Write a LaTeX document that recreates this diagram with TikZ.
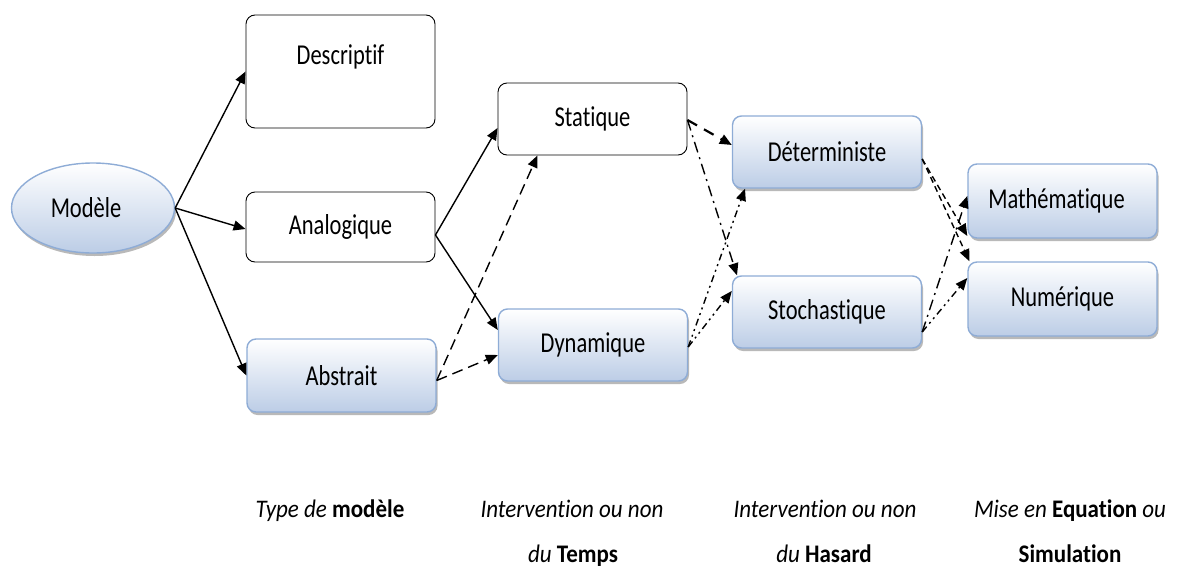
\documentclass[tikz,border=0pt]{standalone}
\usepackage{fontspec}
\setmainfont{Carlito}[Ligatures={NoCommon}]
\usetikzlibrary{shapes.geometric,arrows.meta,shadows}
\definecolor{boxedge}{HTML}{8EACD6}
\definecolor{boxbot}{HTML}{BCCDE6}
\definecolor{shadowgray}{HTML}{8A8A8A}
% tall, narrow lettering used inside the boxes and under the columns
\newcommand{\boxtxt}[1]{\scalebox{1}[1.28]{#1}}
\newcommand{\captxt}[1]{\scalebox{1}[1.1]{#1}}
\tikzset{
  base/.style={rounded corners=9pt, minimum width=189pt, minimum height=72pt,
    font=\fontsize{22.5}{26}\selectfont, inner sep=0pt},
  plainbox/.style={base, draw=black, line width=0.9pt, fill=white},
  bluebox/.style={base, draw=boxedge, line width=1.4pt, top color=white, bottom color=boxbot,
    drop shadow={shadow xshift=1.5pt, shadow yshift=-3pt, fill=shadowgray, opacity=0.6}},
  oval/.style={ellipse, draw=boxedge, line width=1.4pt, top color=white, bottom color=boxbot,
    minimum width=163pt, minimum height=90pt, font=\fontsize{22.5}{26}\selectfont, inner sep=0pt,
    drop shadow={shadow xshift=1.5pt, shadow yshift=-3pt, fill=shadowgray, opacity=0.6}},
  conn/.style={line width=1.4pt, -{Triangle[length=12pt,width=10pt]}},
  solidc/.style={conn},
  dashc/.style={conn, dash pattern=on 11pt off 6pt},
  thickdash/.style={conn, line width=2.2pt, dash pattern=on 11pt off 8pt},
  dashdot/.style={conn, dash pattern=on 11pt off 5pt on 2pt off 5pt},
  dashdotdot/.style={conn, dash pattern=on 7pt off 4pt on 2pt off 4pt on 2pt off 4pt},
  smalldash/.style={conn, dash pattern=on 6pt off 4pt},
  caption/.style={font=\fontsize{23}{26}\selectfont, anchor=base},
}
\begin{document}
\begin{tikzpicture}[x=1pt,y=-1pt]
\useasboundingbox (0,0) rectangle (1180,570);

% first column
\node[oval] (modele) at (93,208) {\boxtxt{Modèle}\hspace*{14pt}};
\node[plainbox, minimum height=113pt] (descr) at (340.5,71.5) {};
\node[font=\fontsize{22.5}{26}\selectfont] (descrtxt) at (340.5,57) {\boxtxt{Descriptif}};
\node[plainbox, minimum height=70pt] (analog) at (340.5,227) {\boxtxt{Analogique}};
\node[bluebox, minimum height=73pt] (abstr) at (341.5,375.5) {\boxtxt{Abstrait}};

% second column
\node[plainbox] (stat) at (592.5,119) {\boxtxt{Statique}};
\node[bluebox] (dyn) at (593,345) {\boxtxt{Dynamique}};

% third column
\node[bluebox] (det) at (827,152) {\boxtxt{Déterministe}};
\node[bluebox] (sto) at (827,312) {\boxtxt{Stochastique}};

% fourth column
\node[bluebox, minimum height=74pt] (math) at (1062.5,201) {\boxtxt{Mathématique}\hspace*{12pt}};
\node[bluebox, minimum height=74pt] (num) at (1062.5,299) {\boxtxt{Numérique}};

% connectors from the model
\draw[solidc] (modele.east) -- (descr.west);
\draw[solidc] (modele.east) -- ([yshift=-2pt]analog.west);
\draw[solidc] (modele.east) -- (abstr.west);

% type -> time
\draw[solidc] ([yshift=-8pt]analog.east) -- ([yshift=-9pt]stat.west);
\draw[solidc] ([yshift=-8pt]analog.east) -- ([yshift=15pt]dyn.west);
\draw[dashc] ([yshift=-5pt]abstr.east) -- ([xshift=-55pt]stat.south);
\draw[dashc] ([yshift=-5pt]abstr.east) -- ([yshift=-10pt]dyn.west);

% time -> hazard
\draw[thickdash] ([yshift=-1pt]stat.east) -- ([yshift=7pt]det.west);
\draw[dashdot] ([yshift=-1pt]stat.east) -- ([xshift=-90pt]sto.north);
\draw[dashdotdot] ([yshift=-2pt]dyn.east) -- ([xshift=-82pt]det.south);
\draw[dashdotdot] ([yshift=-2pt]dyn.east) -- ([yshift=21pt]det.west |- sto.center);

% hazard -> formulation
\draw[smalldash] ([yshift=-7pt]det.east) -- ([yshift=-35pt]math.west);
\draw[smalldash] ([yshift=-7pt]det.east) -- ([xshift=-93pt]num.north);
\draw[dashdot] ([yshift=-20pt]sto.east) -- ([yshift=5pt]math.west);
\draw[dashdotdot] ([yshift=-20pt]sto.east) -- ([yshift=21pt]num.west);

% column captions
\node[caption] (c1) at (330,517) {\captxt{\itshape Type de \bfseries\upshape modèle}};
\node[caption] (c2a) at (572,517) {\captxt{\itshape Intervention ou non}};
\node[caption] (c2b) at (573,562) {\captxt{\itshape du \upshape\bfseries Temps}};
\node[caption] (c3a) at (825,517) {\captxt{\itshape Intervention ou non}};
\node[caption] (c3b) at (824,562) {\captxt{\itshape du \upshape\bfseries Hasard}};
\node[caption] (c4a) at (1070,517) {\captxt{\itshape Mise en \upshape\bfseries Equation \mdseries\itshape ou}};
\node[caption] (c4b) at (1070,562) {\captxt{\bfseries Simulation}};
\end{tikzpicture}
\end{document}
